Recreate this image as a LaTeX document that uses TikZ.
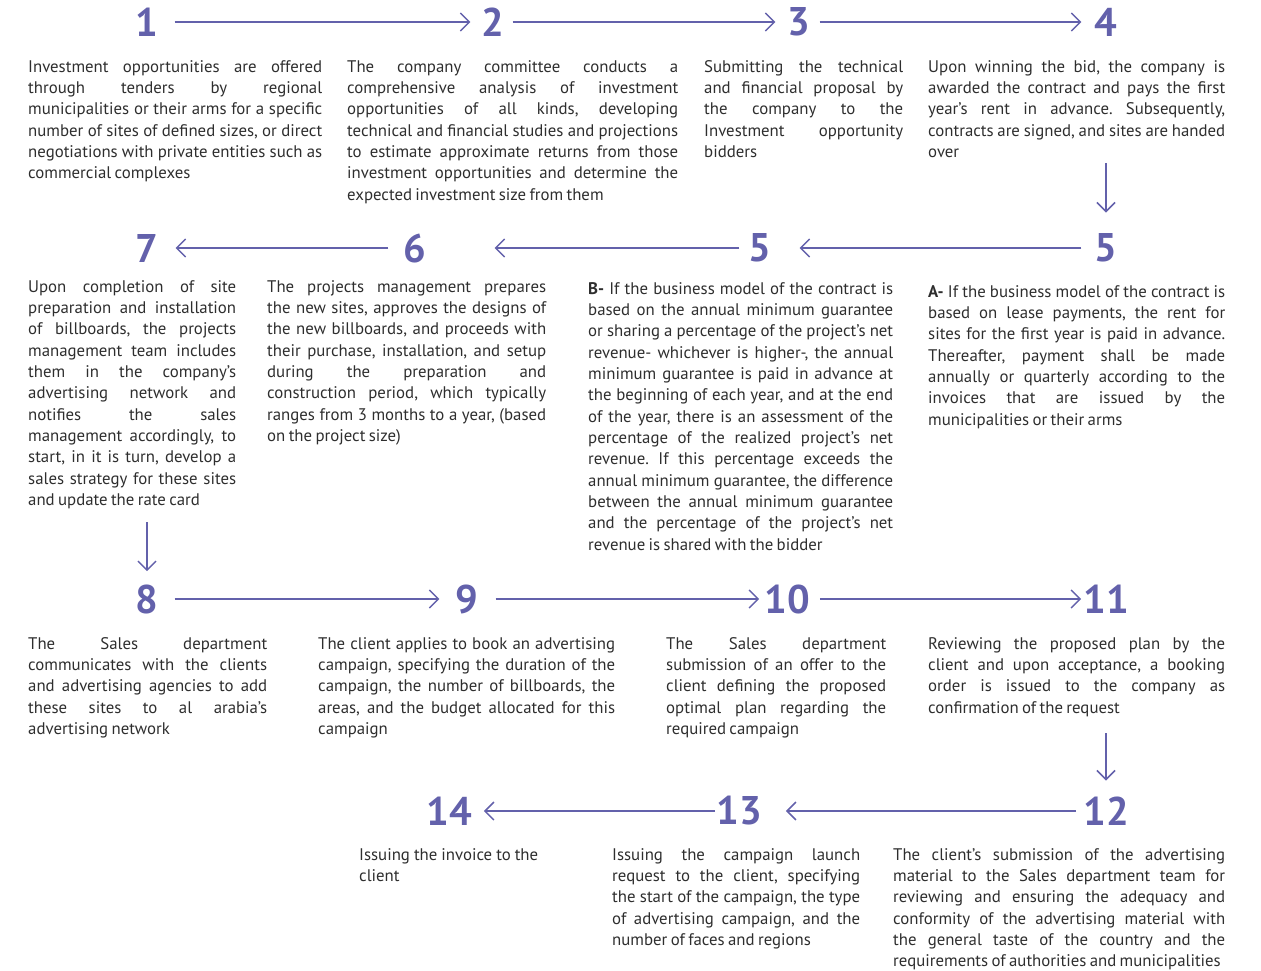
\documentclass[tikz,border=0pt]{standalone}
\usepackage{fontspec}
\setmainfont{PT Sans}[WordSpace={0.75,1,1.3}]
\usetikzlibrary{arrows.meta}

\definecolor{stepblue}{HTML}{6361AB}
\definecolor{bodygray}{HTML}{2E2E2E}

\tikzset{
  num/.style={font=\fontsize{40}{40}\selectfont\bfseries, text=stepblue, inner sep=0pt},
  flow/.style={draw=stepblue, line width=1.5pt, -{Straight Barb[length=9pt,width=18pt,line width=1.5pt]}},
  info/.style={anchor=north west, inner sep=0pt, text width=#1, align=justify, text=bodygray,
    font=\fontsize{16.8}{21.33}\selectfont\frenchspacing}
}

\begin{document}
\begin{tikzpicture}[x=1pt,y=-1pt]
\useasboundingbox (0,0) rectangle (1261,971);

% step numbers
\node[num] (n1) at (147,22) {1};
\node[num] (n2) at (493,22) {2};
\node[num] (n3) at (799,22) {3};
\node[num] (n4) at (1106,22) {4};
\node[num] (n5a) at (1106,248) {5};
\node[num] (n5b) at (760,248) {5};
\node[num] (n6) at (415,248) {6};
\node[num] (n7) at (147,248) {7};
\node[num] (n8) at (147,599) {8};
\node[num] (n9) at (467,599) {9};
\node[num] (n10) at (787,599) {10};
\node[num] (n11) at (1106,599) {11};
\node[num] (n12) at (1106,811) {12};
\node[num] (n13) at (739,811) {13};
\node[num] (n14) at (449,811) {14};

% texts
\node[info=294pt] (t1) at (28,60) {Investment opportunities are offered\linebreak through tenders by regional\linebreak municipalities or their arms for a specific\linebreak number of sites of defined sizes, or direct\linebreak negotiations with private entities such as\linebreak commercial complexes};
\node[info=331pt] (t2) at (347,60) {The company committee conducts a\linebreak comprehensive analysis of investment\linebreak opportunities of all kinds, developing\linebreak technical and financial studies and projections\linebreak to estimate approximate returns from those\linebreak investment opportunities and determine the\linebreak expected investment size from them};
\node[info=199pt] (t3) at (704,60) {Submitting the technical\linebreak and financial proposal by\linebreak the company to the\linebreak Investment opportunity\linebreak bidders};
\node[info=297pt] (t4) at (928,60) {Upon winning the bid, the company is\linebreak awarded the contract and pays the first\linebreak year's rent in advance. Subsequently,\linebreak contracts are signed, and sites are handed\linebreak over};

\node[info=208pt] (t7) at (28,280) {Upon completion of site\linebreak preparation and installation\linebreak of billboards, the projects\linebreak management team includes\linebreak them in the company's\linebreak advertising network and\linebreak notifies the sales\linebreak management accordingly, to\linebreak start, in it is turn, develop a\linebreak sales strategy for these sites\linebreak and update the rate card};
\node[info=279pt] (t6) at (267,280) {The projects management prepares\linebreak the new sites, approves the designs of\linebreak the new billboards, and proceeds with\linebreak their purchase, installation, and setup\linebreak during the preparation and\linebreak construction period, which typically\linebreak ranges from 3 months to a year, (based\linebreak on the project size)};
\node[info=305pt] (t5b) at (588,282) {\textbf{B-} If the business model of the contract is\linebreak based on the annual minimum guarantee\linebreak or sharing a percentage of the project's net\linebreak revenue- whichever is higher-, the annual\linebreak minimum guarantee is paid in advance at\linebreak the beginning of each year, and at the end\linebreak of the year, there is an assessment of the\linebreak percentage of the realized project's net\linebreak revenue. If this percentage exceeds the\linebreak annual minimum guarantee, the difference\linebreak between the annual minimum guarantee\linebreak and the percentage of the project's net\linebreak revenue is shared with the bidder};
\node[info=297pt] (t5a) at (928,285) {\textbf{A-} If the business model of the contract is\linebreak based on lease payments, the rent for\linebreak sites for the first year is paid in advance.\linebreak Thereafter, payment shall be made\linebreak annually or quarterly according to the\linebreak invoices that are issued by the\linebreak municipalities or their arms};

\node[info=239pt] (t8) at (28,637) {The Sales department\linebreak communicates with the clients\linebreak and advertising agencies to add\linebreak these sites to al arabia's\linebreak advertising network};
\node[info=297pt] (t9) at (318,637) {The client applies to book an advertising\linebreak campaign, specifying the duration of the\linebreak campaign, the number of billboards, the\linebreak areas, and the budget allocated for this\linebreak campaign};
\node[info=220pt] (t10) at (666,637) {The Sales department\linebreak submission of an offer to the\linebreak client defining the proposed\linebreak optimal plan regarding the\linebreak required campaign};
\node[info=297pt] (t11) at (928,637) {Reviewing the proposed plan by the\linebreak client and upon acceptance, a booking\linebreak order is issued to the company as\linebreak confirmation of the request};

\node[info=332pt] (t12) at (893,848) {The client's submission of the advertising\linebreak material to the Sales department team for\linebreak reviewing and ensuring the adequacy and\linebreak conformity of the advertising material with\linebreak the general taste of the country and the\linebreak requirements of authorities and municipalities};
\node[info=248pt] (t13) at (612,848) {Issuing the campaign launch\linebreak request to the client, specifying\linebreak the start of the campaign, the type\linebreak of advertising campaign, and the\linebreak number of faces and regions};
\node[info=179pt] (t14) at (359,848) {Issuing the invoice to the\linebreak client};

% free ends of the downward arrows
\coordinate (d4) at (1106,163);
\coordinate (d7) at (147,522);
\coordinate (d11) at (1106,733);

% arrows
\draw[flow, shorten <=16pt, shorten >=11pt] (n1) -- (n2);
\draw[flow, shorten <=8pt, shorten >=12pt] (n2) -- (n3);
\draw[flow, shorten <=9pt, shorten >=13pt] (n3) -- (n4);
\draw[flow, shorten >=21pt] (d4) -- (n5a);
\draw[flow, shorten <=13pt, shorten >=28pt] (n5a) -- (n5b);
\draw[flow, shorten <=9pt, shorten >=68pt] (n5b) -- (n6);
\draw[flow, shorten <=15pt, shorten >=17pt] (n6) -- (n7);
\draw[flow, shorten >=13pt] (d7) -- (n8);
\draw[flow, shorten <=16pt, shorten >=16pt] (n8) -- (n9);
\draw[flow, shorten <=17pt, shorten >=5pt] (n9) -- (n10);
\draw[flow, shorten <=10pt, shorten >=2pt] (n10) -- (n11);
\draw[flow, shorten >=16pt] (d11) -- (n12);
\draw[flow, shorten <=7pt, shorten >=24pt] (n12) -- (n13);
\draw[flow, shorten <=1pt, shorten >=12pt] (n13) -- (n14);
\end{tikzpicture}
\end{document}
